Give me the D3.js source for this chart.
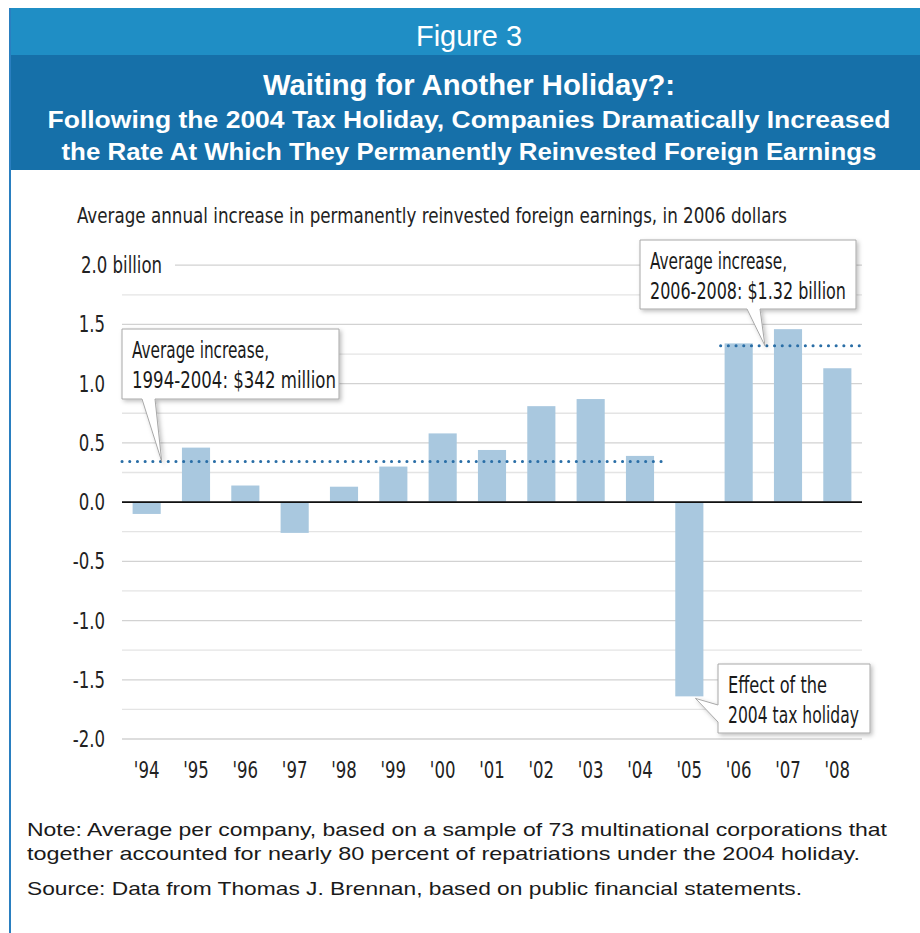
<!DOCTYPE html>
<html>
<head>
<meta charset="utf-8">
<script src="https://cdn.jsdelivr.net/npm/d3@7"></script>
<style>
  body { margin: 0; background: #fff; }
  .narrow { font-family: "Liberation Sans Narrow", "DejaVu Sans Condensed", "Arial Narrow", sans-serif; }
  .wide { font-family: "Liberation Sans", Arial, sans-serif; }
</style>
</head>
<body>
<svg id="chart" width="920" height="933"></svg>
<script>
// data
const years = ["'94", "'95", "'96", "'97", "'98", "'99", "'00", "'01", "'02", "'03", "'04", "'05", "'06", "'07", "'08"];
const increase = [-0.10, 0.46, 0.14, -0.26, 0.13, 0.30, 0.58, 0.44, 0.81, 0.87, 0.39, -1.64, 1.34, 1.46, 1.13];
const yTicks = [2.0, 1.5, 1.0, 0.5, 0.0, -0.5, -1.0, -1.5, -2.0];
const avgEarly = 0.342; // 1994-2004
const avgLate = 1.32;   // 2006-2008

const svg = d3.select("#chart");
const squeeze = 0.8; // condensed look for chart labels

// header bands
svg.append("rect").attr("x", 9).attr("y", 8).attr("width", 911).attr("height", 47).attr("fill", "#1f8ec5");
svg.append("rect").attr("x", 9).attr("y", 55).attr("width", 911).attr("height", 115).attr("fill", "#1670a9");
svg.append("line").attr("x1", 10).attr("x2", 10).attr("y1", 8).attr("y2", 933)
  .attr("stroke", "#2a7fc0").attr("stroke-width", 2);

const header = [
  { t: "Figure 3", y: 46, size: 29, w: "normal", len: 106 },
  { t: "Waiting for Another Holiday?:", y: 95, size: 29, w: "bold", len: 412 },
  { t: "Following the 2004 Tax Holiday, Companies Dramatically Increased", y: 128, size: 23, w: "bold", len: 843 },
  { t: "the Rate At Which They Permanently Reinvested Foreign Earnings", y: 160, size: 23, w: "bold", len: 815 }
];
svg.selectAll(".head").data(header).enter().append("text")
  .attr("class", "head wide")
  .attr("x", 469)
  .attr("y", (d) => d.y)
  .attr("text-anchor", "middle")
  .attr("fill", "#fff")
  .attr("font-size", (d) => d.size)
  .attr("font-weight", (d) => d.w)
  .attr("textLength", (d) => d.len)
  .attr("lengthAdjust", "spacingAndGlyphs")
  .text((d) => d.t);

// scales
const left = 122, right = 862;
const x = d3.scaleBand().domain(years).range([left, right]).paddingInner(0.43).paddingOuter(0.215);
const y = d3.scaleLinear().domain([-2, 2]).range([739, 265.2]);

// subtitle
svg.append("text").attr("class", "narrow")
  .attr("x", 77).attr("y", 223)
  .attr("font-size", 22).attr("fill", "#222")
  .attr("textLength", 710).attr("lengthAdjust", "spacingAndGlyphs")
  .text("Average annual increase in permanently reinvested foreign earnings, in 2006 dollars");

// gridlines (every 0.25)
const grid = d3.range(-2, 2.01, 0.25);
svg.append("g").selectAll("line").data(grid).enter().append("line")
  .attr("x1", (d) => (d === 2 ? 175 : left))
  .attr("x2", right)
  .attr("y1", (d) => y(d))
  .attr("y2", (d) => y(d))
  .attr("stroke", (d) => (Math.abs(d * 2 - Math.round(d * 2)) < 1e-6 ? "#d2d2d2" : "#e4e4e4"))
  .attr("stroke-width", 1.3);

// y tick labels
svg.append("g").selectAll("text").data(yTicks).enter().append("text")
  .attr("class", "narrow")
  .attr("transform", (d) => `translate(${d === 2 ? 81 : 105},${y(d) + 8}) scale(${squeeze},1)`)
  .attr("text-anchor", (d) => (d === 2 ? "start" : "end"))
  .attr("font-size", 23)
  .attr("fill", "#222")
  .text((d) => (d === 2 ? "2.0 billion" : d3.format(".1f")(d).replace("−", "-")));

// bars
svg.append("g").selectAll("rect").data(increase).enter().append("rect")
  .attr("x", (d, i) => x(years[i]))
  .attr("width", x.bandwidth())
  .attr("y", (d) => y(Math.max(0, d)))
  .attr("height", (d) => Math.abs(y(d) - y(0)))
  .attr("fill", "#a9c8df");

// zero line
svg.append("line").attr("x1", left).attr("x2", right).attr("y1", y(0)).attr("y2", y(0))
  .attr("stroke", "#111").attr("stroke-width", 1.6);

// x labels
svg.append("g").selectAll("text").data(years).enter().append("text")
  .attr("class", "narrow")
  .attr("transform", (d) => `translate(${x(d) + x.bandwidth() / 2},778) scale(${squeeze},1)`)
  .attr("text-anchor", "middle")
  .attr("font-size", 23)
  .attr("fill", "#222")
  .text((d) => d);

// average dotted lines
const avgLines = [
  { v: avgEarly, x1: left, x2: x("'04") + x.bandwidth() + 9 },
  { v: avgLate, x1: x("'06") - 4, x2: right }
];
svg.append("g").selectAll("line").data(avgLines).enter().append("line")
  .attr("x1", (d) => d.x1).attr("x2", (d) => d.x2)
  .attr("y1", (d) => y(d.v)).attr("y2", (d) => y(d.v))
  .attr("stroke", "#2a6ea6").attr("stroke-width", 3)
  .attr("stroke-dasharray", "0.1 7.6").attr("stroke-linecap", "round");

// callouts
const defs = svg.append("defs");
const f = defs.append("filter").attr("id", "shadow").attr("x", "-10%").attr("y", "-10%").attr("width", "130%").attr("height", "140%");
f.append("feDropShadow").attr("dx", 2).attr("dy", 2).attr("stdDeviation", 2).attr("flood-color", "#000").attr("flood-opacity", 0.25);

function callout(box, tip, side, lines, lens) {
  const [x0, y0, x1, y1] = box;
  let p;
  if (side === "bottom") {
    p = `M${x0},${y0}H${x1}V${y1}H${tip.b1}L${tip.x},${tip.y}L${tip.b0},${y1}H${x0}Z`;
  } else {
    p = `M${x0},${y0}H${x1}V${y1}H${x0}V${tip.b1}L${tip.x},${tip.y}L${x0},${tip.b0}Z`;
  }
  svg.append("path").attr("d", p)
    .attr("fill", "#fff").attr("stroke", "#a8a8a8").attr("stroke-width", 1)
    .attr("filter", "url(#shadow)");
  lines.forEach((t, i) => {
    svg.append("text").attr("class", "narrow")
      .attr("x", x0 + 10).attr("y", y0 + 29 + i * 30)
      .attr("font-size", 23).attr("fill", "#1a1a1a")
      .attr("textLength", lens[i]).attr("lengthAdjust", "spacingAndGlyphs")
      .text(t);
  });
}

callout([122, 329, 339, 399],
  { x: x("'94") + x.bandwidth() + 1, y: y(avgEarly), b0: 142, b1: 155 },
  "bottom", ["Average increase,", "1994-2004: $342 million"], [137, 204]);

callout([640, 240, 856, 309],
  { x: x("'07") - 9, y: y(avgLate), b0: 747, b1: 760 },
  "bottom", ["Average increase,", "2006-2008: $1.32 billion"], [137, 196]);

callout([718, 664, 870, 733],
  { x: x("'05") + x.bandwidth() - 8, y: y(increase[11]) + 2, b0: 705, b1: 722 },
  "left", ["Effect of the", "2004 tax holiday"], [99, 131]);

// notes
const notes = [
  { t: "Note: Average per company, based on a sample of 73 multinational corporations that", y: 836, len: 860 },
  { t: "together accounted for nearly 80 percent of repatriations under the 2004 holiday.", y: 860, len: 833 },
  { t: "Source: Data from Thomas J. Brennan, based on public financial statements.", y: 895, len: 775 }
];
svg.selectAll(".note").data(notes).enter().append("text")
  .attr("class", "note wide")
  .attr("x", 27).attr("y", (d) => d.y)
  .attr("font-size", 19).attr("fill", "#1a1a1a")
  .attr("textLength", (d) => d.len).attr("lengthAdjust", "spacingAndGlyphs")
  .text((d) => d.t);
</script>
</body>
</html>
